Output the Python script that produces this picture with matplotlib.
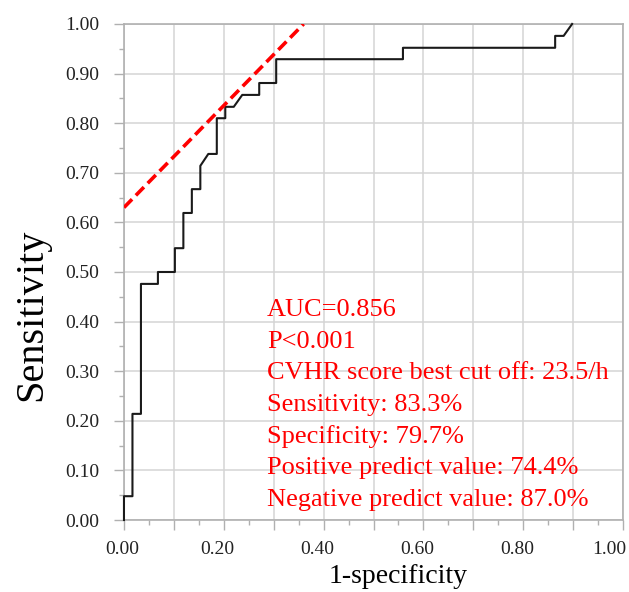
import matplotlib
matplotlib.use("Agg")
import matplotlib.pyplot as plt
from matplotlib.ticker import MultipleLocator
from matplotlib.transforms import ScaledTranslation

plt.rcParams["font.family"] = ["Liberation Serif", "DejaVu Serif"]

# ROC curve vertices (1-specificity, sensitivity)
fpr = [0.0, 0.0, 0.017, 0.017, 0.034, 0.034, 0.068, 0.068, 0.102, 0.102,
       0.119, 0.119, 0.136, 0.136, 0.153, 0.153, 0.169, 0.186, 0.186, 0.203,
       0.203, 0.220, 0.237, 0.271, 0.271, 0.305, 0.305, 0.559, 0.559, 0.864,
       0.864, 0.881, 0.898]
tpr = [0.0, 0.048, 0.048, 0.214, 0.214, 0.476, 0.476, 0.500, 0.500, 0.548,
       0.548, 0.619, 0.619, 0.667, 0.667, 0.714, 0.738, 0.738, 0.810, 0.810,
       0.833, 0.833, 0.857, 0.857, 0.881, 0.881, 0.929, 0.929, 0.952, 0.952,
       0.976, 0.976, 1.000]

# tangent (Youden) line through the best cut-off
tangent_x = [0.0, 0.36]
tangent_y = [0.63, 1.0]

x_ticks = [0.0, 0.1, 0.2, 0.3, 0.4, 0.5, 0.6, 0.7, 0.8, 0.9, 1.0]
x_tick_labels = ["0.00", "", "0.20", "", "0.40", "", "0.60", "", "0.80", "", "1.00"]
y_ticks = [0.0, 0.1, 0.2, 0.3, 0.4, 0.5, 0.6, 0.7, 0.8, 0.9, 1.0]
y_tick_labels = [f"{v:.2f}" for v in y_ticks]

stats_lines = [
    "AUC=0.856",
    "P<0.001",
    "CVHR score best cut off: 23.5/h",
    "Sensitivity: 83.3%",
    "Specificity: 79.7%",
    "Positive predict value: 74.4%",
    "Negative predict value: 87.0%",
]

fig = plt.figure(figsize=(6.29, 5.92), dpi=100)
ax = fig.add_axes([0.1971, 0.1216, 0.7934, 0.8379])

ax.plot(fpr, tpr, color="#1a1a1a", lw=1.5, zorder=3, clip_on=False)
ax.plot(tangent_x, tangent_y, color="#ff0000", lw=2.6,
        linestyle=(0, (3.2, 1.5)), zorder=4)

ax.set_xlim(0, 1)
ax.set_ylim(0, 1)

# ticks & grid
ax.set_xticks(x_ticks)
ax.set_xticklabels(x_tick_labels)
ax.set_yticks(y_ticks)
ax.set_yticklabels(y_tick_labels)
ax.xaxis.set_minor_locator(MultipleLocator(0.05))
ax.yaxis.set_minor_locator(MultipleLocator(0.05))
ax.grid(True, which="major", color="#d4d4d4", lw=1.1, zorder=1)
ax.set_axisbelow(True)

ax.tick_params(axis="both", which="major", length=7, width=1.0,
               color="#b0b0b0", labelsize=14, labelcolor="#222222")
ax.tick_params(axis="both", which="minor", length=3.5, width=1.0,
               color="#b0b0b0")
ax.tick_params(axis="y", which="major", pad=11)
ax.tick_params(axis="x", which="major", pad=8)

# x tick labels sit a little left of their ticks in the original
px = fig.dpi_scale_trans
labels = ax.get_xticklabels()
for lbl in labels[1:-1]:
    lbl.set_transform(lbl.get_transform() + ScaledTranslation(-6 / 100, 0, px))
labels[0].set_transform(labels[0].get_transform() + ScaledTranslation(-2 / 100, 0, px))
labels[-1].set_horizontalalignment("right")
labels[-1].set_transform(labels[-1].get_transform() + ScaledTranslation(3 / 100, 0, px))

for side in ["left", "bottom", "top", "right"]:
    ax.spines[side].set_color("#b0b0b0")
    ax.spines[side].set_linewidth(1.2)

# axis titles
fig.text(0.633, 0.027, "1-specificity", fontsize=20, ha="center", va="center")
fig.text(0.051, 0.468, "Sensitivity", fontsize=29, rotation=90,
         ha="center", va="center")

# statistics block
for i, line in enumerate(stats_lines):
    ax.text(0.287, 0.411 - i * 0.0637, line, color="#ff0000",
            fontsize=19, va="baseline", ha="left", zorder=5)

fig.savefig("out.png", dpi=100)
